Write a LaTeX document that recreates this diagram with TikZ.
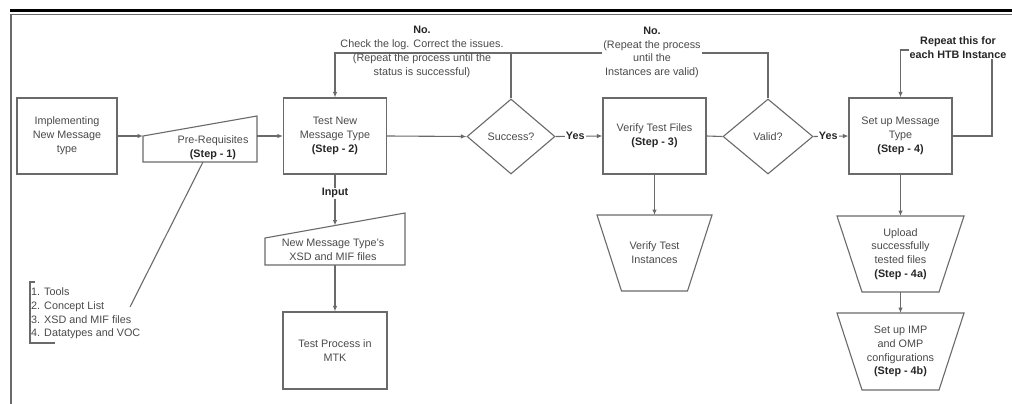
\documentclass[tikz,border=0pt]{standalone}
\usepackage{fontspec}
\setmainfont{Liberation Sans}
\usetikzlibrary{arrows.meta,shapes.geometric,calc}
\definecolor{ln}{HTML}{6A6A6A}
\definecolor{tx}{HTML}{4A4A4A}
\definecolor{bd}{HTML}{262626}
\newcommand{\bt}[1]{\textbf{\color{bd}#1}}
\begin{document}
\begin{tikzpicture}[x=1pt,y=-1pt,
  every node/.style={font=\fontsize{10.8}{13.8}\selectfont, text=tx, align=center},
  lnst/.style={draw=ln, line width=1.1pt},
  arr/.style={lnst, -{Latex[length=5.5pt,width=4.5pt]}},
  box/.style={lnst, rectangle, minimum width=103pt, minimum height=76pt, inner sep=0pt},
  dia/.style={lnst, diamond, minimum width=88pt, minimum height=75pt, inner sep=0pt},
  shp/.style={inner sep=0pt, outer sep=0pt},
  lbl/.style={font=\fontsize{10.8}{13.8}\selectfont\bfseries, text=bd, inner sep=1pt}
]
\useasboundingbox (0,0) rectangle (1012,404);
\fill[white] (0,0) rectangle (1012,404);
% frame
\fill[black] (10,9) rectangle (1012,12.5);
\draw[ln, line width=1pt] (10,14.5) -- (1012,14.5);
\draw[ln, line width=1.5pt] (11,14.5) -- (11,404);

% main row
\node[box, minimum width=100pt] (impl) at (67,136) {Implementing\\New Message\\type};
\node[shp, minimum width=114pt, minimum height=46pt] (pre) at (200,139) {};
\draw[lnst] (pre.south west) -- (pre.south east) -- (pre.north east) -- ($(pre.south west)+(0,-26)$) -- cycle;
\node (pretxt) at (213,148) {Pre-Requisites\\\bt{(Step - 1)}};
\node[box] (test) at (335,136) {Test New\\Message Type\\\bt{(Step - 2)}};
\node[dia] (succ) at (511,136.5) {Success?};
\node[box] (ver) at (654.5,136) {Verify Test Files\\\bt{(Step - 3)}};
\node[dia, minimum width=90pt] (valid) at (768,136.5) {Valid?};
\node[box] (setup) at (900.5,136) {Set up Message\\Type\\\bt{(Step - 4)}};

% input branch
\node[shp, minimum width=140pt, minimum height=52pt] (xsd) at (335,239) {};
\draw[lnst] (xsd.south west) -- (xsd.south east) -- (xsd.north east) -- ($(xsd.south west)+(0,-27)$) -- cycle;
\node (xsdtxt) at (333,250) {New Message Type's\\XSD and MIF files};
\coordinate (xsdin) at (335,225.5);
\node[box, minimum width=104pt, minimum height=77pt] (mtk) at (335,350.5) {Test Process in\\MTK};

% trapezoids
\node[shp, minimum width=115pt, minimum height=76pt] (vti) at (654.5,253) {Verify Test\\Instances};
\draw[lnst] (vti.north west) -- (vti.north east) -- ([xshift=-24.5pt]vti.south east) -- ([xshift=24.5pt]vti.south west) -- cycle;
\node[shp, minimum width=127pt, minimum height=76pt] (up) at (900.5,254) {Upload\\successfully\\tested files\\\bt{(Step - 4a)}};
\draw[lnst] (up.north west) -- (up.north east) -- ([xshift=-25pt]up.south east) -- ([xshift=25pt]up.south west) -- cycle;
\node[shp, minimum width=127pt, minimum height=77pt] (imp) at (900.5,351.5) {Set up IMP\\and OMP\\configurations\\\bt{(Step - 4b)}};
\draw[lnst] (imp.north west) -- (imp.north east) -- ([xshift=-25pt]imp.south east) -- ([xshift=25pt]imp.south west) -- cycle;

% legend
\node[anchor=north west, align=left, inner sep=0pt] (leg) at (31,287.5) {1. Tools\\2. Concept List\\3. XSD and MIF files\\4. Datatypes and VOC};
\draw[lnst] (35,282) -- (30,282) -- (30,343) -- (55,343);
\coordinate (legc) at (130,307);
\draw[lnst] ($(pre.south)+(3,0)$) -- (legc);

% connectors
\draw[arr] (impl.east) -- (impl.east -| pre.west);
\draw[arr] (test.west -| pre.east) -- (test.west);
\draw[arr] (test.east) -- (succ.west);
\draw[arr] (succ.east) -- node[lbl, fill=white, pos=0.42]{Yes} (ver.west);
\draw[lnst] (ver.east) -- (valid.west);
\draw[arr] (valid.east) -- node[lbl, fill=white, pos=0.42]{Yes} (setup.west);
\draw[arr] (test.south) -- node[lbl, fill=white, pos=0.37]{Input} (xsdin);
\draw[arr] (xsd.south) -- (mtk.north);
\draw[arr] (ver.south) -- (vti.north);
\draw[arr] (setup.south) -- (up.north);
\draw[arr] (up.south) -- (imp.north);

% feedback loops
\coordinate (fb) at (0,53);
\draw[arr] (valid.north) |- (fb -| test.north) -- (test.north);
\draw[lnst] (succ.north) -- (succ.north |- fb);
\node (no1) at (422,52) {\bt{No.}\\Check the log. Correct the issues.\\(Repeat the process until the\\status is successful)};
\node[fill=white, inner sep=1pt] (no2) at (652,52.5) {\bt{No.}\\(Repeat the process\\until the\\Instances are valid)};

\coordinate (rl) at (992,50);
\draw[arr] (setup.east) -| (rl) -| (setup.north);
\node[lbl, fill=white] (rep) at (958,47.5) {Repeat this for\\each HTB Instance};
\end{tikzpicture}
\end{document}
